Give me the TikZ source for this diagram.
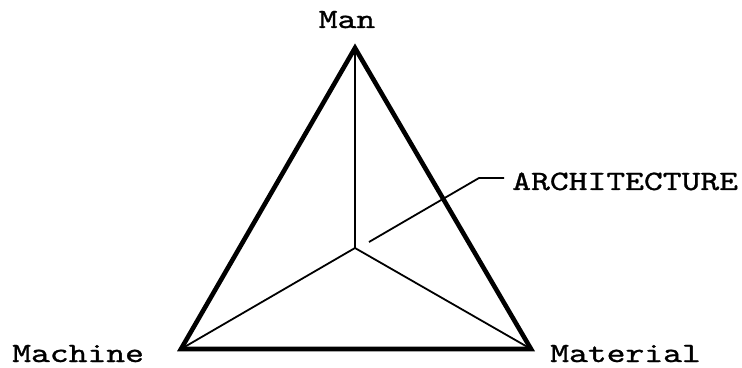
\documentclass[tikz,border=0pt]{standalone}
\usepackage{fontspec}
\newfontfamily\twfont{lmmono10-regular.otf}[FakeBold=0.9]
\begin{document}
\begin{tikzpicture}[x=1pt,y=1pt,
  lbl/.style={inner sep=0pt, font=\twfont\fontsize{28}{28}\selectfont, xscale=1.28},
  edge/.style={line width=4.6pt, line join=miter},
  spoke/.style={line width=1.8pt},
  lead/.style={line width=1.8pt}]
\useasboundingbox (0,0) rectangle (742,367);
\coordinate (man) at (355,319);
\coordinate (mach) at (181,18);
\coordinate (mat) at (531,18);
\coordinate (ctr) at (355,119);
\coordinate (ls) at (369,125);
\coordinate (lk) at (479,189);
\coordinate (le) at (504,189);
\draw[spoke] (ctr) -- (man);
\draw[spoke] (ctr) -- (mach);
\draw[spoke] (ctr) -- (mat);
\draw[edge] (man) -- (mach) -- (mat) -- cycle;
\draw[lead] (ls) -- (lk) -- (le);
\node[lbl, anchor=base west] (arch) at (512,177) {ARCHITECTURE};
\node[lbl, anchor=base] (tman) at (347,339) {Man};
\node[lbl, anchor=base west] (tmach) at (12,5) {Machine};
\node[lbl, anchor=base west] (tmat) at (550,5) {Material};
\end{tikzpicture}
\end{document}
